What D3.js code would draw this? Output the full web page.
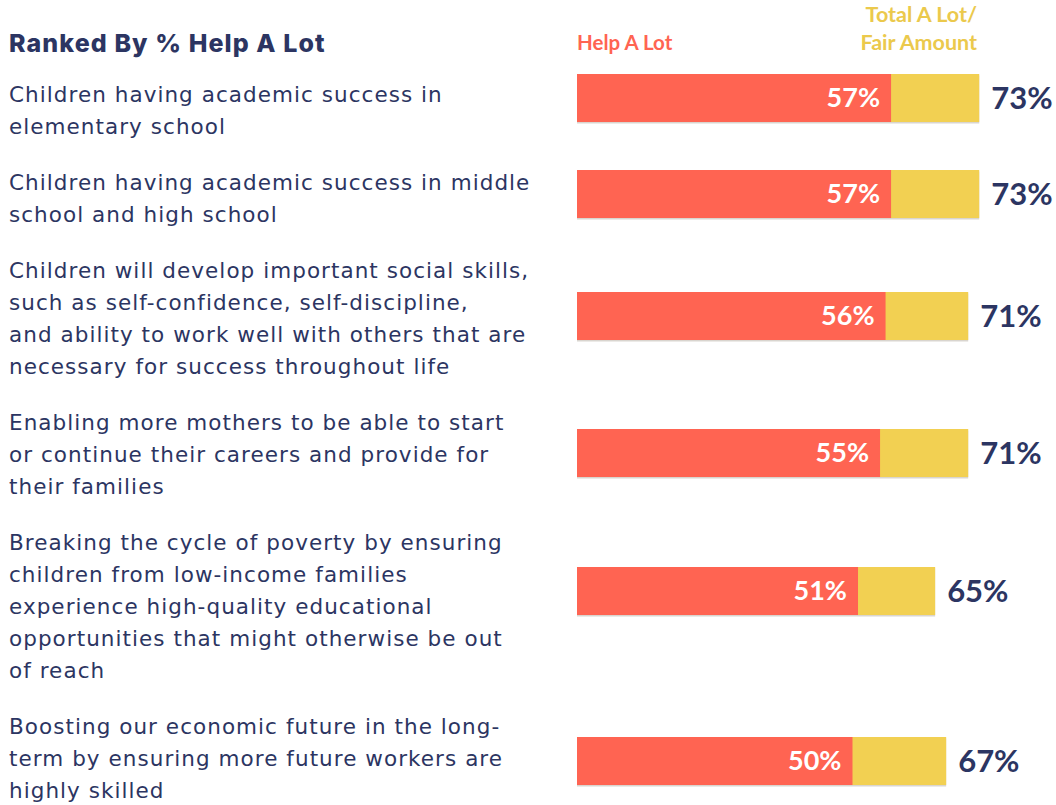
<!DOCTYPE html>
<html>
<head>
<meta charset="utf-8">
<script src="https://cdn.jsdelivr.net/npm/d3@7/dist/d3.min.js"></script>
<style>
  html, body { margin: 0; padding: 0; background: #ffffff; }
  svg { display: block; }
</style>
</head>
<body>
<script>
// Survey items, each split into the lines they are set on
const categories = [
  ["Children having academic success in", "elementary school"],
  ["Children having academic success in middle", "school and high school"],
  ["Children will develop important social skills,", "such as self-confidence, self-discipline,", "and ability to work well with others that are", "necessary for success throughout life"],
  ["Enabling more mothers to be able to start", "or continue their careers and provide for", "their families"],
  ["Breaking the cycle of poverty by ensuring", "children from low-income families", "experience high-quality educational", "opportunities that might otherwise be out", "of reach"],
  ["Boosting our economic future in the long-", "term by ensuring more future workers are", "highly skilled"]
];
const helpALot = [57, 57, 56, 55, 51, 50];
const totalALotFair = [73, 73, 71, 71, 65, 67];

const titleText = "Ranked By % Help A Lot";
const legendHelp = "Help A Lot";
const legendTotal = ["Total A Lot/", "Fair Amount"];

// Layout
const W = 1056, H = 805;
const colors = { red: "#ff6452", yellow: "#f2d052", yellowText: "#ebc94c", navy: "#2c3562" };
const labelFont = "'DejaVu Sans', 'Open Sans', sans-serif";
const numFont = "Lato, 'Open Sans', sans-serif";
const lineH = 32, rowGap = 24, firstBaseline = 102, barH = 48;
const barNudge = [-12, -4, -2, -1, -15, 3];

const svg = d3.select("body").append("svg").attr("width", W).attr("height", H);

const x = d3.scaleLinear().domain([0, 100]).range([577, 577 + 551]);

// Row positions follow from how many lines each label takes
const rows = [];
let b = firstBaseline;
categories.forEach((lines, i) => {
  const center = b - 8 + (lines.length - 1) * lineH / 2;
  rows.push({ lines, baseline: b, barMid: center + barNudge[i], help: helpALot[i], total: totalALotFair[i] });
  b += lines.length * lineH + rowGap;
});

// Title
svg.append("text")
  .attr("x", 9).attr("y", 52)
  .attr("font-family", "Inter, 'Open Sans', sans-serif")
  .attr("font-weight", 800).attr("font-size", 25)
  .attr("letter-spacing", 1.1)
  .attr("fill", colors.navy)
  .text(titleText);

// Legend
svg.append("text")
  .attr("x", x(0)).attr("y", 50)
  .attr("font-family", numFont).attr("font-weight", 700).attr("font-size", 20.5)
  .attr("fill", colors.red)
  .text(legendHelp);
svg.append("g").selectAll("text").data(legendTotal).join("text")
  .attr("x", 977).attr("y", (d, i) => 22 + i * 28)
  .attr("text-anchor", "end")
  .attr("font-family", numFont).attr("font-weight", 700).attr("font-size", 21.5)
  .attr("fill", colors.yellowText)
  .text(d => d);

// Category labels
const labels = svg.append("g");
rows.forEach(r => {
  labels.append("text")
    .attr("font-family", labelFont).attr("font-size", 21.5)
    .attr("letter-spacing", 1.05)
    .attr("fill", colors.navy)
    .selectAll("tspan").data(r.lines).join("tspan")
      .attr("x", 9).attr("y", (d, i) => r.baseline + i * lineH)
      .text(d => d);
});

// Bars: total behind, "help a lot" on top
const bars = svg.append("g").selectAll("g").data(rows).join("g");

bars.append("rect")
  .attr("x", x(0)).attr("y", d => d.barMid - barH / 2 + 1.5)
  .attr("width", d => x(d.total) - x(0)).attr("height", barH)
  .attr("fill", "#d9d5cf");
bars.append("rect")
  .attr("x", x(0)).attr("y", d => d.barMid - barH / 2)
  .attr("width", d => x(d.total) - x(0)).attr("height", barH)
  .attr("fill", colors.yellow);
bars.append("rect")
  .attr("x", x(0)).attr("y", d => d.barMid - barH / 2)
  .attr("width", d => x(d.help) - x(0)).attr("height", barH)
  .attr("fill", colors.red);

// Values
bars.append("text")
  .attr("x", d => x(d.help) - 11).attr("y", d => d.barMid + 9)
  .attr("text-anchor", "end")
  .attr("font-family", numFont).attr("font-weight", 700).attr("font-size", 27)
  .attr("fill", "#ffffff")
  .text(d => d.help + "%");
bars.append("text")
  .attr("x", d => x(d.total) + 12).attr("y", d => d.barMid + 11)
  .attr("font-family", numFont).attr("font-weight", 700).attr("font-size", 31)
  .attr("fill", colors.navy)
  .text(d => d.total + "%");
</script>
</body>
</html>
